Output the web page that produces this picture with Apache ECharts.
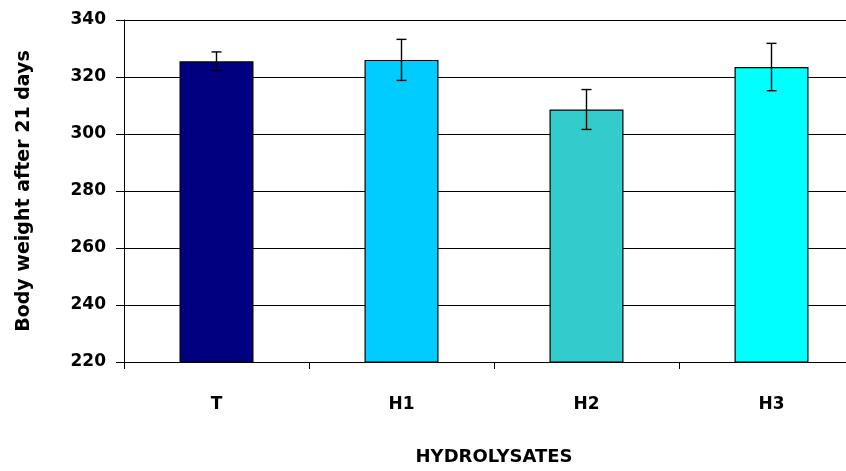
<!DOCTYPE html>
<html>
<head>
<meta charset="utf-8">
<script src="https://cdn.jsdelivr.net/npm/echarts@6/dist/echarts.min.js"></script>
<style>
  html, body { margin: 0; padding: 0; background: #fff; overflow: hidden; }
  /* the original plot runs past the right edge of the picture */
  #main { width: 864px; height: 471px; }
</style>
</head>
<body>
<div id="main"></div>
<script>
// data
var categories = ['T', 'H1', 'H2', 'H3'];
var means = [325.5, 326.0, 308.6, 323.5];
var errors = [3.3, 7.2, 7.0, 8.3];
var barColors = ['#000080', '#00CCFF', '#33CCCC', '#00FFFF'];
var yTicks = [220, 240, 260, 280, 300, 320, 340];

var chart = echarts.init(document.getElementById('main'), null, { renderer: 'canvas' });
var font = 'DejaVu Sans';

var barData = means.map(function (v, i) {
  return { value: v, itemStyle: { color: barColors[i] } };
});
var errData = means.map(function (v, i) {
  return [i, v - errors[i], v + errors[i]];
});

var option = {
  backgroundColor: '#ffffff',
  animation: false,
  grid: { left: 124, top: 20, width: 740, height: 347, containLabel: false },
  xAxis: {
    type: 'category',
    data: categories,
    name: 'HYDROLYSATES',
    nameLocation: 'middle',
    nameGap: 86,
    nameTextStyle: { fontFamily: font, fontWeight: 'bold', fontSize: 18, color: '#000' },
    axisLine: { lineStyle: { color: '#000', width: 1 } },
    axisTick: { show: true, length: 7, lineStyle: { color: '#000' } },
    axisLabel: { margin: 34, fontFamily: font, fontWeight: 'bold', fontSize: 17, color: '#000' },
    splitLine: { show: false }
  },
  yAxis: {
    type: 'value',
    min: yTicks[0],
    max: yTicks[yTicks.length - 1],
    interval: 20,
    name: 'Body weight after 21 days',
    nameLocation: 'middle',
    nameGap: 90,
    nameTextStyle: { fontFamily: font, fontWeight: 'bold', fontSize: 19, color: '#000' },
    axisLine: { show: true, lineStyle: { color: '#000', width: 1 } },
    axisTick: { show: true, length: 8, lineStyle: { color: '#000' } },
    axisLabel: { margin: 18, fontFamily: font, fontWeight: 'bold', fontSize: 17, color: '#000' },
    splitLine: { show: true, lineStyle: { color: '#000', width: 1 } }
  },
  series: [
    {
      type: 'bar',
      data: barData,
      barWidth: '40%',
      itemStyle: { borderColor: '#000', borderWidth: 1.2 }
    },
    {
      type: 'custom',
      data: errData,
      z: 10,
      renderItem: function (params, api) {
        var x = api.value(0);
        var lo = api.coord([x, api.value(1)]);
        var hi = api.coord([x, api.value(2)]);
        var w = 5;
        var style = { stroke: '#000', lineWidth: 1.4 };
        return {
          type: 'group',
          children: [
            { type: 'line', shape: { x1: hi[0], y1: hi[1], x2: lo[0], y2: lo[1] }, style: style },
            { type: 'line', shape: { x1: hi[0] - w, y1: hi[1], x2: hi[0] + w, y2: hi[1] }, style: style },
            { type: 'line', shape: { x1: lo[0] - w, y1: lo[1], x2: lo[0] + w, y2: lo[1] }, style: style }
          ]
        };
      }
    }
  ]
};

chart.setOption(option);
</script>
</body>
</html>
